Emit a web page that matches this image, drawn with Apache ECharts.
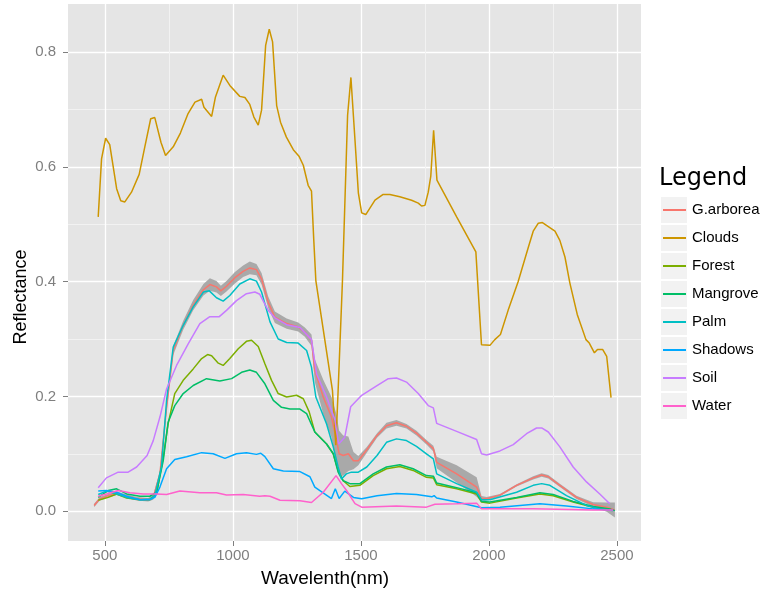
<!DOCTYPE html>
<html>
<head>
<meta charset="utf-8">
<script src="https://cdn.jsdelivr.net/npm/echarts@6/dist/echarts.min.js"></script>
<style>html,body{margin:0;padding:0;background:#fff}#c{width:769px;height:593px}</style>
</head>
<body>
<div id="c"></div>
<script>
// ---- data (wavelength nm, reflectance) ----
const seriesNames = ['G.arborea','Clouds','Forest','Mangrove','Palm','Shadows','Soil','Water'];
const xTicks = [500,1000,1500,2000,2500];
const xMinor = [750,1250,1750,2250];
const yTicks = [0,0.2,0.4,0.6,0.8];
const yMinor = [0.1,0.3,0.5,0.7];

const garborea = [[458,0.010],[480,0.0215],[513,0.027],[546,0.031],[585,0.026],[624,0.0215],[669,0.020],[689,0.024],[715,0.065],[741,0.181],[767,0.280],[806,0.324],[845,0.359],[885,0.386],[910,0.395],[936,0.391],[953,0.384],[975,0.392],[1008,0.407],[1040,0.418],[1066,0.424],[1092,0.421],[1112,0.405],[1138,0.364],[1164,0.338],[1210,0.327],[1255,0.321],[1281,0.312],[1307,0.298],[1320,0.245],[1353,0.199],[1385,0.164],[1405,0.123],[1415,0.100],[1431,0.097],[1451,0.100],[1471,0.088],[1490,0.088],[1523,0.107],[1563,0.132],[1600,0.149],[1639,0.154],[1678,0.148],[1717,0.136],[1756,0.120],[1783,0.109],[1796,0.085],[1874,0.065],[1952,0.042],[1971,0.0215],[1991,0.0215],[2043,0.028],[2108,0.045],[2173,0.058],[2206,0.063],[2232,0.060],[2277,0.045],[2342,0.024],[2407,0.0116],[2460,0.007],[2492,0.002]];
// half width of the grey confidence band around G.arborea (same points)
const garboreaBand = [0.003,0.003,0.003,0.003,0.003,0.003,0.003,0.004,0.006,0.008,0.008,0.008,0.009,0.010,0.011,0.010,0.009,0.009,0.010,0.010,0.011,0.010,0.010,0.010,0.010,0.009,0.008,0.008,0.010,0.020,0.030,0.035,0.045,0.040,0.035,0.030,0.015,0.008,0.005,0.004,0.005,0.005,0.004,0.004,0.004,0.005,0.010,0.015,0.017,0.005,0.003,0.002,0.002,0.003,0.003,0.003,0.003,0.003,0.004,0.008,0.013];

const clouds = [[474,0.513],[487,0.614],[503,0.650],[519,0.639],[546,0.562],[562,0.541],[578,0.539],[604,0.556],[634,0.587],[656,0.635],[679,0.684],[695,0.686],[719,0.643],[737,0.620],[767,0.635],[795,0.659],[825,0.693],[852,0.713],[878,0.718],[887,0.704],[917,0.688],[932,0.722],[962,0.760],[988,0.742],[1027,0.723],[1047,0.721],[1066,0.709],[1082,0.687],[1099,0.673],[1112,0.699],[1128,0.812],[1142,0.840],[1155,0.818],[1171,0.707],[1186,0.678],[1209,0.652],[1236,0.630],[1259,0.618],[1275,0.603],[1294,0.568],[1307,0.558],[1316,0.472],[1324,0.402],[1389,0.210],[1402,0.115],[1411,0.210],[1428,0.402],[1448,0.690],[1461,0.756],[1477,0.646],[1490,0.555],[1503,0.520],[1519,0.517],[1555,0.542],[1587,0.552],[1613,0.552],[1652,0.548],[1698,0.542],[1724,0.537],[1737,0.532],[1750,0.533],[1763,0.556],[1773,0.584],[1784,0.664],[1797,0.577],[1874,0.513],[1949,0.452],[1971,0.290],[2004,0.289],[2023,0.299],[2045,0.308],[2075,0.350],[2114,0.400],[2154,0.460],[2173,0.488],[2193,0.502],[2209,0.503],[2232,0.496],[2258,0.488],[2277,0.472],[2297,0.443],[2316,0.398],[2345,0.343],[2379,0.299],[2392,0.293],[2412,0.276],[2424,0.282],[2444,0.282],[2460,0.270],[2477,0.198]];

const forest = [[474,0.019],[513,0.024],[546,0.030],[585,0.023],[637,0.020],[676,0.020],[702,0.030],[728,0.094],[747,0.152],[773,0.205],[806,0.228],[845,0.248],[878,0.266],[901,0.273],[917,0.271],[943,0.258],[962,0.254],[988,0.266],[1021,0.283],[1053,0.296],[1073,0.298],[1099,0.287],[1125,0.257],[1151,0.228],[1177,0.205],[1210,0.199],[1249,0.202],[1275,0.196],[1298,0.173],[1320,0.138],[1366,0.117],[1392,0.100],[1411,0.071],[1431,0.053],[1457,0.043],[1496,0.045],[1548,0.062],[1600,0.074],[1652,0.078],[1704,0.071],[1756,0.059],[1783,0.058],[1796,0.046],[1874,0.039],[1952,0.030],[1971,0.016],[2004,0.014],[2108,0.023],[2199,0.030],[2251,0.027],[2329,0.016],[2407,0.007],[2485,0.002]];

const mangrove = [[474,0.024],[513,0.036],[546,0.039],[585,0.030],[637,0.026],[676,0.026],[702,0.033],[728,0.088],[747,0.155],[773,0.184],[806,0.205],[845,0.219],[897,0.231],[949,0.227],[995,0.231],[1034,0.242],[1066,0.246],[1092,0.242],[1125,0.222],[1158,0.193],[1190,0.181],[1223,0.178],[1262,0.178],[1288,0.170],[1320,0.138],[1366,0.117],[1392,0.100],[1411,0.068],[1431,0.053],[1457,0.048],[1496,0.048],[1548,0.065],[1600,0.077],[1652,0.081],[1704,0.074],[1756,0.062],[1783,0.061],[1796,0.049],[1874,0.041],[1952,0.032],[1971,0.017],[2004,0.016],[2108,0.024],[2199,0.032],[2251,0.029],[2329,0.017],[2407,0.008],[2472,0.004],[2492,0.001]];

const palm = [[474,0.029],[506,0.035],[546,0.030],[585,0.024],[637,0.020],[676,0.021],[695,0.027],[721,0.077],[741,0.193],[767,0.286],[806,0.324],[845,0.356],[885,0.382],[908,0.384],[936,0.372],[962,0.366],[988,0.376],[1027,0.396],[1066,0.405],[1092,0.401],[1112,0.382],[1145,0.330],[1177,0.300],[1210,0.294],[1255,0.293],[1288,0.280],[1307,0.251],[1324,0.199],[1366,0.152],[1392,0.112],[1411,0.077],[1424,0.056],[1443,0.065],[1463,0.068],[1490,0.068],[1523,0.077],[1563,0.097],[1600,0.120],[1639,0.126],[1678,0.123],[1717,0.113],[1756,0.100],[1783,0.091],[1796,0.065],[1874,0.048],[1952,0.033],[1971,0.020],[2004,0.020],[2108,0.033],[2173,0.045],[2206,0.048],[2238,0.045],[2303,0.027],[2381,0.010],[2433,0.004],[2479,0.002]];

const shadows = [[474,0.035],[506,0.036],[546,0.033],[585,0.026],[637,0.020],[676,0.020],[695,0.024],[715,0.042],[741,0.074],[773,0.090],[819,0.095],[878,0.102],[923,0.100],[969,0.092],[1014,0.100],[1053,0.102],[1092,0.099],[1109,0.101],[1125,0.095],[1158,0.074],[1197,0.070],[1262,0.069],[1301,0.060],[1320,0.042],[1385,0.022],[1400,0.039],[1415,0.022],[1437,0.035],[1471,0.024],[1503,0.0215],[1563,0.027],[1639,0.031],[1717,0.029],[1777,0.025],[1786,0.027],[1796,0.023],[1874,0.016],[1971,0.006],[2043,0.007],[2199,0.013],[2303,0.009],[2407,0.004],[2485,0.001]];

const soil = [[474,0.041],[506,0.058],[552,0.068],[591,0.068],[624,0.077],[665,0.097],[689,0.123],[715,0.164],[741,0.213],[780,0.254],[826,0.292],[871,0.327],[910,0.339],[947,0.339],[975,0.350],[1014,0.367],[1053,0.379],[1086,0.382],[1105,0.378],[1138,0.350],[1164,0.337],[1210,0.325],[1262,0.320],[1307,0.299],[1327,0.239],[1366,0.199],[1398,0.160],[1413,0.117],[1437,0.129],[1460,0.182],[1503,0.202],[1563,0.219],[1607,0.231],[1639,0.232],[1678,0.225],[1724,0.205],[1763,0.184],[1783,0.180],[1796,0.153],[1874,0.139],[1952,0.125],[1971,0.100],[1991,0.098],[2043,0.105],[2095,0.116],[2147,0.135],[2186,0.145],[2206,0.145],[2232,0.138],[2277,0.112],[2329,0.077],[2381,0.051],[2433,0.030],[2472,0.013]];

const water = [[474,0.026],[506,0.030],[552,0.036],[598,0.032],[650,0.030],[702,0.030],[741,0.029],[793,0.035],[871,0.032],[936,0.032],[975,0.028],[1040,0.029],[1105,0.026],[1125,0.027],[1145,0.026],[1184,0.019],[1262,0.018],[1307,0.015],[1353,0.033],[1403,0.062],[1424,0.048],[1444,0.036],[1477,0.013],[1503,0.007],[1639,0.009],[1756,0.007],[1789,0.012],[1874,0.013],[1952,0.014],[1971,0.004],[2173,0.004],[2407,0.002],[2485,0.002]];

const seriesData = [garborea, clouds, forest, mangrove, palm, shadows, soil, water];
const colors = ['#F8766D','#CD9600','#7CAE00','#00BE67','#00BFC4','#00A9FF','#C77CFF','#FF61CC'];

// ---- chart ----
const FONT = '"Liberation Sans", Arial, Helvetica, sans-serif';
const chart = echarts.init(document.getElementById('c'), null, {renderer: 'canvas'});
const X_MIN = 356, X_MAX = 2594, Y_MIN = -0.052, Y_MAX = 0.884;

const lineSeries = seriesNames.map((n, i) => ({
  name: n, type: 'line', data: seriesData[i], showSymbol: false, symbol: 'none',
  lineStyle: {color: colors[i], width: 1.5}, itemStyle: {color: colors[i]},
  z: 3 + i, animation: false
}));

const ribbon = {
  type: 'custom', silent: true, z: 2, animation: false,
  data: [[garborea[0][0], garborea[0][1]]],
  renderItem: function (params, api) {
    const up = garborea.map((p, i) => api.coord([p[0], p[1] + garboreaBand[i]]));
    const lo = garborea.map((p, i) => api.coord([p[0], p[1] - garboreaBand[i]])).reverse();
    return {type: 'polygon', shape: {points: up.concat(lo)}, style: {fill: '#A9A9A9'}};
  }
};

const keyBoxes = seriesNames.map((n, i) => ({
  type: 'rect', left: 661, top: 197 + 28 * i, shape: {width: 26, height: 26}, style: {fill: '#F2F2F2'}, silent: true, z: 0
}));

chart.setOption({
  animation: false,
  backgroundColor: '#ffffff',
  textStyle: {fontFamily: FONT},
  title: {text: 'Legend', left: 659, top: 167, padding: 0,
    textStyle: {fontFamily: '"DejaVu Sans", sans-serif', fontSize: 24, fontWeight: 'normal', color: '#000'}},
  legend: {
    data: seriesNames, orient: 'vertical', left: 663, top: 197, padding: 0,
    itemWidth: 23, itemHeight: 2, itemGap: 2, icon: 'rect',
    textStyle: {fontSize: 15, color: '#000', fontFamily: FONT, lineHeight: 26, padding: [0, 0, 0, 1]},
    selectedMode: false
  },
  grid: {left: 68, right: 128, top: 4, bottom: 52, show: true, backgroundColor: '#E5E5E5', borderWidth: 0, containLabel: false},
  xAxis: [
    {type: 'value', min: X_MIN, max: X_MAX, position: 'bottom', axisLine: {show: false, onZero: false},
     axisTick: {show: true, length: 5, lineStyle: {color: '#7F7F7F', width: 1}, customValues: xTicks},
     axisLabel: {customValues: xTicks, color: '#7F7F7F', fontSize: 15, margin: 7, fontFamily: FONT,
       formatter: v => String(Math.round(v))},
     splitLine: {show: true, lineStyle: {color: '#FFFFFF', width: 1.3}}},
    {type: 'value', min: X_MIN, max: X_MAX, position: 'bottom', axisLine: {show: false, onZero: false},
     axisTick: {show: false, customValues: xMinor}, axisLabel: {show: false, customValues: xMinor},
     splitLine: {show: true, lineStyle: {color: '#F2F2F2', width: 1}}}
  ],
  yAxis: [
    {type: 'value', min: Y_MIN, max: Y_MAX, position: 'left', axisLine: {show: false, onZero: false},
     axisTick: {show: true, length: 5, lineStyle: {color: '#7F7F7F', width: 1}, customValues: yTicks},
     axisLabel: {customValues: yTicks, color: '#7F7F7F', fontSize: 15, margin: 12, fontFamily: FONT,
       formatter: v => Number(v).toFixed(1)},
     splitLine: {show: true, lineStyle: {color: '#FFFFFF', width: 1.3}}},
    {type: 'value', min: Y_MIN, max: Y_MAX, position: 'left', axisLine: {show: false, onZero: false},
     axisTick: {show: false, customValues: yMinor}, axisLabel: {show: false, customValues: yMinor},
     splitLine: {show: true, lineStyle: {color: '#F2F2F2', width: 1}}}
  ],
  graphic: keyBoxes.concat([
    {type: 'text', x: 325, y: 579, silent: true,
     style: {text: 'Wavelenth(nm)', fontSize: 19, fontFamily: FONT, fill: '#000', textAlign: 'center', textVerticalAlign: 'middle'}},
    {type: 'text', x: 21, y: 297, rotation: Math.PI / 2, silent: true,
     style: {text: 'Reflectance', fontSize: 18, fontFamily: FONT, fill: '#000', textAlign: 'center', textVerticalAlign: 'middle'}}
  ]),
  series: [ribbon].concat(lineSeries)
});
</script>
</body>
</html>
